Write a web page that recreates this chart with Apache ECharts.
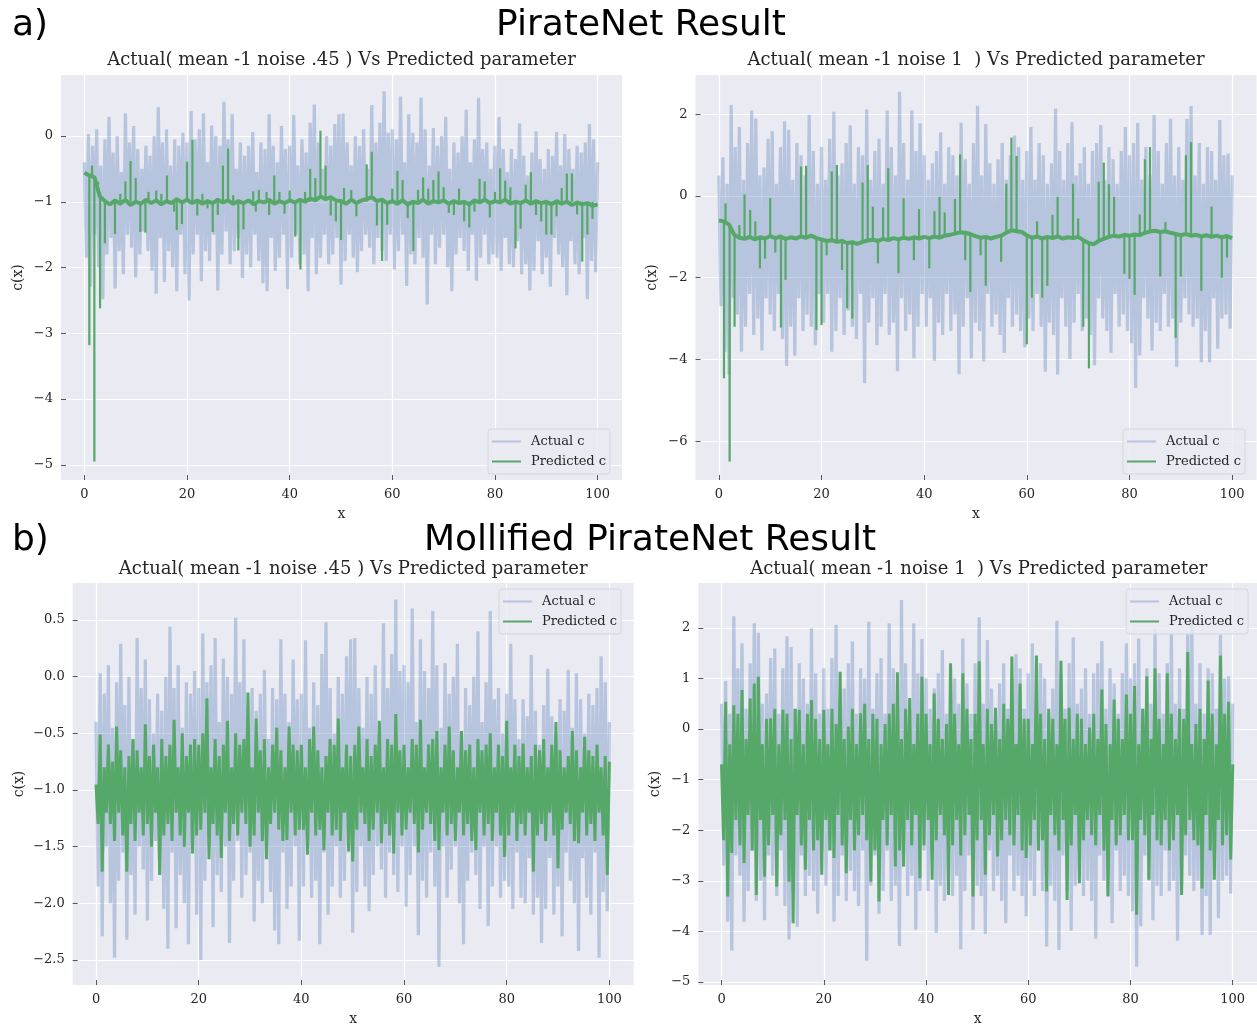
<!DOCTYPE html>
<html>
<head>
<meta charset="utf-8">
<script src="https://cdn.jsdelivr.net/npm/echarts@6.0.0/dist/echarts.min.js"></script>
<style>
  html, body { margin: 0; padding: 0; background: #fff; }
  #main { width: 1257px; height: 1029px; }
</style>
</head>
<body>
<div id="main"></div>
<script>
// Noisy series are read off the picture as alternating crest / trough values:
// crests at x = 0, 0.8, 1.6 ... 100, troughs at x = 0.4, 1.2 ... 99.6
const X_TICKS = [0, 20, 40, 60, 80, 100];
const Y_TICKS_A045 = [-5, -4, -3, -2, -1, 0];
const Y_TICKS_A1 = [-6, -4, -2, 0, 2];
const Y_TICKS_B045 = [-2.5, -2, -1.5, -1, -0.5, 0, 0.5];
const Y_TICKS_B1 = [-5, -4, -3, -2, -1, 0, 1, 2];

// actual c, mean -1 noise .45 (same data in a) and b))
const actual045Crests = [
  -0.4, 0.03, -0.15, 0.10, -0.45, -0.05, 0.29, -0.25, 0.0, -0.55, 0.34, -0.1, 0.15, -0.2, -0.5, -0.15, -0.3, 0.0, 0.44, -0.1, 0.1, -0.45, -0.05, -0.15, 0.05,
  -0.1, 0.38, -0.05, 0.1, 0.34, -0.4, 0.16, 0.0, -0.15, 0.52, -0.05, 0.33, -0.5, -0.1, -0.3, -0.15, 0.06, -0.55, -0.1, -0.2, 0.33, -0.15, -0.4, 0.15, -0.2,
  -0.15, 0.32, -0.45, -0.05, -0.25, 0.20, 0.48, -0.1, -0.5, 0.0, -0.15, 0.18, 0.33, 0.34, -0.1, -0.45, 0.0, -0.15, 0.1, -0.5, 0.47, -0.1, 0.2, 0.68, 0.05,
  0.1, -0.05, 0.60, -0.4, 0.33, 0.05, -0.1, 0.58, 0.1, -0.45, 0.12, -0.15, 0.0, 0.29, -0.5, -0.1, -0.25, 0.0, 0.40, -0.4, -0.05, 0.58, -0.2, -0.1, -0.5,
  -0.15, 0.29, -0.2, -0.55, -0.2, -0.35, 0.19, -0.3, -0.6, -0.25, 0.07, -0.35, -0.5, -0.2, -0.3, 0.06, -0.45, 0.03, -0.2, -0.5, -0.15, -0.25, -0.1, 0.18, -0.05,
  -0.4
];
const actual045Troughs = [
  -1.85, -2.29, -1.5, -2.0, -2.48, -1.8, -1.55, -2.32, -1.75, -2.1, -1.5, -1.7, -2.15, -1.8, -1.45, -1.75, -2.05, -2.40, -1.55, -2.22, -1.75, -2.0, -2.36, -1.5, -2.1,
  -2.50, -1.8, -1.5, -2.21, -1.75, -1.9, -1.5, -2.35, -1.8, -1.45, -1.95, -1.75, -1.55, -2.16, -1.8, -2.0, -1.5, -1.9, -2.24, -2.36, -1.55, -2.05, -1.85, -1.5, -2.33,
  -1.85, -1.5, -1.95, -1.8, -2.36, -1.55, -2.10, -1.85, -1.5, -1.95, -1.8, -1.55, -2.26, -1.9, -1.5, -1.85, -2.07, -1.75, -1.5, -1.7, -1.95, -1.55, -1.75, -1.9, -1.5,
  -2.03, -1.75, -1.5, -2.28, -1.8, -1.95, -1.55, -1.85, -2.56, -1.5, -1.95, -1.7, -1.5, -2.0, -2.36, -1.8, -1.55, -1.75, -2.05, -1.5, -2.20, -1.85, -1.5, -1.95, -1.8,
  -1.85, -2.05, -1.55, -1.95, -2.0, -1.6, -2.1, -1.95, -2.35, -2.05, -1.6, -2.1, -1.85, -2.29, -1.55, -1.8, -2.0, -2.42, -1.6, -1.95, -2.1, -1.55, -2.48, -1.9, -2.07
];

// actual c, mean -1 noise 1
const actual1Crests = [
  0.5, 0.95, 0.3, 2.23, 1.2, 1.69, 0.4, 1.3, 2.09, 1.90, 0.5, 0.7, 1.4, 1.59, 0.3, 1.2, 1.83, 1.62, 0.4, 1.3, 1.0, 0.5, 1.99, 1.1, 0.3,
  1.2, 0.4, 1.4, 2.06, 0.5, 0.8, 1.3, 1.73, 0.3, 1.2, 1.0, 2.12, 0.4, 1.1, 1.4, 0.3, 2.09, 1.2, 0.5, 2.55, 1.3, 0.4, 2.09, 1.1, 1.78,
  1.0, 0.4, 0.8, 1.1, 1.56, 0.3, 1.2, 1.0, 0.5, 1.79, 0.9, 0.3, 1.3, 2.21, 0.5, 1.76, 0.8, 0.3, 0.9, 1.3, 0.4, 1.0, 1.48, 1.2, 0.4,
  1.1, 1.69, 0.4, 1.3, 1.0, 0.3, 0.8, 2.14, 1.1, 0.4, 1.3, 1.81, 0.5, 0.8, 1.2, 0.3, 1.1, 1.3, 1.74, 0.4, 1.2, 0.9, 0.3, 1.1, 1.69,
  1.0, 1.3, 1.79, 0.4, 1.2, 0.5, 1.99, 1.1, 0.3, 1.3, 1.89, 0.5, 1.2, 0.4, 1.89, 2.2, 0.5, 1.3, 0.3, 1.2, 1.1, 0.4, 1.86, 1.0, 1.04,
  0.5
];
const actual1Troughs = [
  -2.7, -3.81, -4.38, -2.5, -2.9, -3.81, -3.2, -2.4, -3.4, -3.0, -3.78, -2.5, -2.9, -3.3, -2.4, -3.5, -4.16, -3.2, -3.91, -2.5, -3.3, -2.9, -3.2, -3.65, -2.4,
  -3.1, -2.4, -3.81, -3.3, -2.5, -3.4, -2.8, -3.2, -3.5, -2.4, -4.58, -3.1, -2.5, -3.65, -3.2, -2.4, -3.4, -3.1, -4.29, -2.5, -3.3, -2.9, -3.97, -3.2, -2.4,
  -3.2, -2.5, -4.03, -3.1, -3.4, -2.4, -3.3, -2.9, -4.36, -3.2, -2.5, -3.97, -3.1, -3.3, -4.05, -2.4, -3.2, -2.9, -3.4, -3.84, -2.5, -3.2, -2.9, -3.3, -3.70,
  -3.0, -3.3, -2.4, -3.2, -4.30, -3.1, -3.4, -4.37, -2.5, -3.2, -3.99, -3.1, -2.4, -3.3, -3.0, -3.4, -4.14, -2.5, -3.0, -3.3, -3.84, -2.4, -3.2, -2.9, -3.3,
  -3.6, -4.70, -3.9, -2.5, -3.0, -3.78, -3.1, -3.3, -2.4, -3.2, -3.0, -4.18, -3.1, -2.5, -2.9, -3.2, -3.0, -4.07, -3.3, -4.07, -2.5, -3.74, -3.0, -2.9, -3.25
];

// PirateNet predicted c, noise .45: slow baseline (x = 0..100 step 1) + spikes [x, from, to]
const pirate045Base = [
  -0.56, -0.6, -0.63, -0.92, -0.99, -1.04, -0.98, -1.03, -0.97, -1.05,
  -1.0, -1.03, -0.97, -1.02, -0.98, -1.04, -0.99, -1.02, -0.96, -1.01,
  -0.97, -1.02, -0.98, -1.03, -0.99, -1.02, -0.97, -1.01, -0.98, -1.03,
  -0.99, -1.02, -0.98, -1.04, -0.99, -1.01, -0.97, -1.03, -0.99, -1.02,
  -0.98, -1.01, -0.97, -1.0, -0.95, -0.98, -0.92, -0.96, -0.93, -0.98,
  -0.99, -1.03, -0.97, -1.02, -0.98, -0.96, -0.93, -0.99, -0.97, -1.02,
  -0.99, -1.03, -0.98, -1.04, -1.0, -1.02, -0.97, -1.03, -0.99, -1.01,
  -0.98, -1.03, -0.99, -1.02, -1.0, -1.04, -0.98, -1.01, -0.97, -1.02,
  -0.99, -1.01, -0.97, -1.03, -1.0, -1.02, -0.98, -1.03, -0.99, -1.02,
  -1.0, -1.04, -0.99, -1.03, -1.0, -1.05, -1.01, -1.04, -1.02, -1.06,
  -1.04
];
const pirate045Spikes = [
  [0.97, -0.6, -3.18], [1.5, -0.6, -0.45], [1.95, -0.62, -4.95], [2.7, -0.7, -0.74], [3.06, -0.85, -2.62],
  [4.0, -1, -1.63], [5.97, -1, -1.49], [7, -1, -0.88], [8, -1, -0.69], [9, -1, -0.38], [10, -1, -0.64],
  [10.9, -1, -1.46], [11.9, -1, -1.47], [12.5, -1, -0.85], [14, -1, -0.83], [15, -1, -0.88], [16.1, -1, -0.6],
  [17.5, -1, -1.15], [18, -1, -1.43], [19, -1, -1.34], [20, -1, -0.39], [21.05, -1, -0.06], [22, -1, -1.21],
  [23, -1, -0.88], [24, -1, -1.1], [25, -1, -1.46], [26, -1, -1.2], [27, -1, -0.45], [28, -1, -0.19],
  [29, -1, -0.9], [30, -1, -1.74], [31, -1, -1.42], [32.9, -1, -0.84], [33.4, -1, -1.15], [34, -1, -0.82],
  [35.5, -1, -0.85], [36, -1, -1.2], [37, -1, -0.6], [38, -1, -0.85], [39, -1, -1.18], [40, -1, -0.83],
  [41.1, -1, -1.53], [42.1, -1, -2.03], [43, -1, -0.85], [44, -1, -0.5], [45, -1, -0.64], [46, -0.95, 0.08],
  [47, -0.95, -0.45], [48, -0.95, -1.21], [49, -1, -1.3], [50, -1, -1.58], [50.6, -1, -0.79], [52, -1, -0.82],
  [53, -1, -1.22], [55, -1, -0.43], [56, -0.95, -0.24], [57, -1, -1.36], [58, -1, -1.9], [59, -1, -1.35],
  [60, -1, -0.8], [61, -1, -0.53], [62, -1, -0.67], [63, -1, -1.25], [64.1, -1, -1.75], [65, -1, -0.82],
  [66, -1, -0.63], [67, -1, -0.8], [68, -1, -0.67], [69, -1, -0.54], [70, -1, -0.78], [71, -1, -1.17],
  [72, -1, -1.2], [73, -1, -0.8], [74, -1, -1.3], [75, -1, -1.39], [76, -1, -1.15], [77, -1, -0.65],
  [78, -1, -0.69], [79, -1, -1.24], [80, -1, -0.85], [81, -1, -0.49], [82, -1, -0.68], [83, -1, -0.78],
  [84, -1, -1.71], [85, -1, -1.41], [86, -1, -0.74], [87, -1, -0.55], [88, -1, -1.2], [89, -1, -1.3],
  [90, -1, -1.5], [91, -1, -1.5], [92, -1, -1.22], [93, -1, -0.79], [94, -1, -0.57], [95, -1, -0.57],
  [96, -1, -1.19], [97, -1, -1.91], [98, -1, -1.5], [99, -1, -1.26]
];

// PirateNet predicted c, noise 1
const pirate1Base = [
  -0.6, -0.62, -0.7, -0.95, -1.02, -1.05, -1.0, -1.06, -1.01, -1.04,
  -0.98, -1.03, -0.99, -1.05, -1.01, -1.04, -0.99, -1.02, -0.97, -1.03,
  -1.06, -1.1, -1.08, -1.12, -1.1, -1.15, -1.13, -1.17, -1.12, -1.09,
  -1.07, -1.1, -1.05, -1.08, -1.03, -1.06, -1.02, -1.05, -1.01, -1.04,
  -1.0, -1.03, -0.99, -1.02, -0.97, -0.95, -0.92, -0.89, -0.9, -0.93,
  -0.98, -1.02, -1.0, -1.04, -1.0, -0.97, -0.9, -0.84, -0.86, -0.88,
  -0.96, -1.02, -0.99, -1.04, -1.0, -1.03, -0.99, -1.04, -1.01, -1.03,
  -1.0, -1.08, -1.15, -1.18, -1.1, -1.05, -1.0, -0.97, -0.99, -0.95,
  -0.97, -0.94, -0.96, -0.9, -0.87, -0.85, -0.88, -0.86, -0.9, -0.93,
  -0.96, -0.93, -0.97, -0.95, -0.99, -0.96, -1.0, -0.97, -1.01, -0.98,
  -1.03
];
const pirate1Spikes = [
  [1.0, -0.62, -4.46], [1.3, -0.62, -0.18], [2.1, -0.7, -6.5], [3.06, -0.95, -3.2], [4, -1, -0.71],
  [5, -1.03, 0.04], [6.1, -1, -0.34], [7.1, -1, -0.62], [8, -1, -1.77], [9, -1, -1.53], [10, -1, -0.05],
  [11, -1, -1.38], [12.1, -1, -3.22], [13, -1, -2.05], [16, -1, 0.72], [17, -1, 0.74], [19, -1.03, -3.28],
  [20, -1.06, -3.16], [21, -1.1, -1.45], [22, -1.08, 0.6], [23, -1.12, 0.76], [24, -1.1, -1.81],
  [25, -1.15, -2.75], [26, -1.13, -3.0], [28, -1.12, 0.33], [29, -1.09, 0.76], [30, -1.07, -0.26],
  [31, -1.1, -1.65], [32, -1.05, -0.28], [33, -1.08, 0.68], [35, -1.06, -1.89], [36, -1.02, -0.05],
  [38, -1.01, -1.57], [39, -1.04, -0.32], [41, -1.03, -1.77], [42, -0.99, -0.37], [43, -1.02, -0.02],
  [44, -0.97, -0.4], [46, -0.92, -0.07], [47, -0.89, 1.02], [48, -0.9, -1.57], [49, -0.93, -2.35],
  [51, -1.02, -1.45], [52, -1, -2.2], [55, -0.97, -1.61], [56, -0.9, 0.3], [57, -0.84, 1.43],
  [58, -0.86, 0.98], [60, -0.96, -3.63], [61, -1.02, -2.49], [62, -0.99, -0.62], [63, -1.04, -2.49],
  [64, -1, -2.2], [65, -1.03, -0.46], [66, -0.99, -0.02], [69, -1.03, 0.3], [70, -1, -0.55],
  [71, -1.08, -3.2], [72.1, -1.15, -4.22], [74, -1.1, 0.35], [75, -1.05, 0.82], [76, -1, 0.29],
  [77, -0.97, -0.02], [79, -0.95, -1.9], [80, -0.97, -2.03], [81, -0.94, -2.42], [82, -0.96, -0.45],
  [83, -0.9, 0.9], [84, -0.87, 1.2], [86, -0.88, -1.97], [87, -0.86, -0.64], [89, -0.93, -3.47],
  [90, -0.96, -1.97], [91, -0.93, 1.0], [92, -0.97, 1.32], [94, -0.99, -2.32], [96, -1, -0.26],
  [98, -1.01, -2.0], [99, -0.98, -1.51]
];

// Mollified PirateNet predicted c
const mollified045Crests = [
  -0.95, -0.51, -0.8, -0.6, -0.75, -0.44, -0.65, -0.8, -0.7, -0.55, -0.65, -0.8, -0.42, -0.7, -0.6, -0.8, -0.55, -0.7, -0.6, -0.38, -0.8, -0.5, -0.7, -0.6, -0.55,
  -0.6, -0.5, -0.19, -0.8, -0.55, -0.7, -0.6, -0.39, -0.8, -0.5, -0.6, -0.55, -0.14, -0.8, -0.37, -0.65, -0.55, -0.8, -0.6, -0.45, -0.65, -0.8, -0.44, -0.6, -0.65,
  -0.6, -0.8, -0.55, -0.44, -0.65, -0.8, -0.7, -0.55, -0.6, -0.37, -0.8, -0.6, -0.7, -0.6, -0.44, -0.8, -0.55, -0.7, -0.6, -0.39, -0.8, -0.55, -0.6, -0.33, -0.65,
  -0.6, -0.8, -0.55, -0.6, -0.38, -0.8, -0.6, -0.55, -0.48, -0.8, -0.6, -0.44, -0.65, -0.8, -0.48, -0.65, -0.6, -0.8, -0.55, -0.65, -0.6, -0.5, -0.8, -0.6, -0.7,
  -0.39, -0.8, -0.6, -0.7, -0.59, -0.8, -0.7, -0.6, -0.65, -0.55, -0.8, -0.6, -0.4, -0.65, -0.8, -0.7, -0.48, -0.65, -0.8, -0.53, -0.65, -0.7, -0.6, -0.8, -0.7,
  -0.75
];
const mollified045Troughs = [
  -1.3, -1.72, -1.2, -1.3, -1.45, -1.2, -1.4, -1.72, -1.3, -1.45, -1.2, -1.4, -1.3, -1.5, -1.2, -1.75, -1.4, -1.3, -1.45, -1.2, -1.4, -1.50, -1.2, -1.56, -1.4,
  -1.35, -1.2, -1.61, -1.3, -1.4, -1.60, -1.2, -1.45, -1.3, -1.4, -1.2, -1.3, -1.50, -1.4, -1.2, -1.45, -1.61, -1.3, -1.2, -1.35, -1.45, -1.44, -1.2, -1.4, -1.35,
  -1.35, -1.57, -1.2, -1.4, -1.35, -1.53, -1.2, -1.4, -1.35, -1.45, -1.2, -1.54, -1.63, -1.35, -1.2, -1.3, -1.45, -1.35, -1.2, -1.47, -1.3, -1.4, -1.56, -1.2, -1.4,
  -1.35, -1.2, -1.3, -1.55, -1.35, -1.2, -1.3, -1.45, -1.53, -1.2, -1.4, -1.3, -1.45, -1.2, -1.4, -1.3, -1.45, -1.53, -1.2, -1.4, -1.3, -1.45, -1.2, -1.4, -1.59,
  -1.4, -1.2, -1.45, -1.3, -1.4, -1.2, -1.72, -1.4, -1.3, -1.45, -1.2, -1.4, -1.69, -1.35, -1.2, -1.3, -1.45, -1.47, -1.2, -1.4, -1.3, -1.45, -1.2, -1.4, -1.75
];
const mollified1Crests = [
  -0.7, 0.54, -0.3, 0.47, 0.3, 0.77, -0.2, 0.6, 0.9, 1.03, -0.3, 0.2, 0.21, 0.4, -0.3, 0.38, 0.3, -0.2, 0.4, 0.38, -0.3, 0.3, 0.57, 0.2, -0.2,
  0.38, -0.3, 0.4, 0.1, 1.13, -0.2, 0.05, 0.4, -0.3, 0.31, 0.5, -0.2, 0.3, 0.2, -0.3, 0.1, 0.3, 0.5, 1.12, -0.2, 0.4, 0.61, -0.3, 0.3, 1.03,
  0.3, -0.3, 0.70, 0.2, -0.2, 0.1, 1.30, 0.3, -0.3, 1.10, 0.4, -0.2, 0.3, 1.34, -0.3, 0.4, 0.1, 0.42, -0.2, 0.5, 0.2, 1.43, -0.3, 0.9, 0.2,
  0.2, -0.3, 1.45, 0.3, -0.2, 0.4, 0.2, -0.3, 1.35, 0.2, 0.42, -0.2, 0.3, 0.2, -0.3, 0.03, 0.3, -0.2, 0.78, 0.1, -0.3, 0.58, 0.2, -0.2, 0.68,
  0.3, 0.85, -0.3, 0.4, 1.04, -0.2, 1.2, 0.2, -0.3, 1.10, 0.3, -0.2, 0.4, 0.2, 1.52, -0.3, 0.1, 0.4, -0.2, 0.96, 0.3, -0.3, 1.45, 0.3, 0.54,
  -0.7
];
const mollified1Troughs = [
  -2.2, -3.31, -2.45, -1.8, -2.3, -2.65, -1.7, -2.4, -3.28, -1.8, -2.92, -2.3, -1.7, -3.12, -2.1, -1.8, -3.02, -3.84, -1.7, -2.3, -2.78, -1.8, -2.4, -2.2, -2.88,
  -1.8, -2.4, -2.55, -1.7, -2.3, -2.85, -1.8, -2.4, -2.1, -1.7, -2.2, -3.02, -2.4, -3.41, -1.8, -2.3, -1.7, -2.72, -2.4, -2.72, -1.8, -2.3, -1.7, -2.95, -2.3,
  -1.8, -2.98, -2.2, -1.7, -2.1, -3.28, -2.3, -1.8, -2.5, -2.1, -1.7, -3.31, -2.2, -1.8, -2.88, -2.1, -1.7, -2.52, -2.2, -1.8, -2.1, -2.3, -1.7, -2.4, -2.55,
  -2.3, -1.8, -2.4, -2.2, -3.21, -1.7, -2.1, -2.4, -1.8, -3.38, -2.3, -1.7, -3.05, -2.2, -1.8, -2.1, -2.3, -1.7, -2.4, -3.31, -1.8, -2.3, -2.1, -1.7, -2.2,
  -2.2, -3.67, -1.8, -2.1, -2.98, -1.7, -2.2, -2.3, -1.8, -2.4, -2.2, -1.7, -3.28, -2.1, -1.8, -2.2, -2.3, -3.15, -1.7, -2.4, -2.98, -1.8, -2.3, -2.1, -2.58
];

const SERIF = "'DejaVu Serif', serif";
const SANS = "'DejaVu Sans', sans-serif";
const TEXT = '#262626';
const BLUE = '#4C72B0';
const GREEN = '#55A868';

// crest, trough, crest, trough ... in x order
const interleave = (crests, troughs) => {
  const out = [];
  crests.forEach((c, k) => { out.push(c); if (k < troughs.length) out.push(troughs[k]); });
  return out;
};
const toPairs = (vals, step) => vals.map((v, i) => [Math.round(i * step * 100) / 100, v]);
const fmt = d => v => (v < 0 ? '\u2212' : '') + Math.abs(v).toFixed(d);

const actual045 = toPairs(interleave(actual045Crests, actual045Troughs), 0.4);
const actual1 = toPairs(interleave(actual1Crests, actual1Troughs), 0.4);
const mollified045 = toPairs(interleave(mollified045Crests, mollified045Troughs), 0.4);
const mollified1 = toPairs(interleave(mollified1Crests, mollified1Troughs), 0.4);

const panels = [
  { grid: { left: 61, top: 75, width: 561, height: 405 }, yMin: -5.23, yMax: 0.927, yTicks: Y_TICKS_A045, dec: 0,
    title: 'Actual( mean -1 noise .45 ) Vs Predicted parameter', titleTop: 51, legend: { left: 488, top: 429 } },
  { grid: { left: 695.5, top: 75, width: 561, height: 405 }, yMin: -6.95, yMax: 2.962, yTicks: Y_TICKS_A1, dec: 0,
    title: 'Actual( mean -1 noise 1  ) Vs Predicted parameter', titleTop: 51, legend: { left: 1123, top: 429 } },
  { grid: { left: 72.7, top: 583, width: 561, height: 402 }, yMin: -2.72, yMax: 0.826, yTicks: Y_TICKS_B045, dec: 1,
    title: 'Actual( mean -1 noise .45 ) Vs Predicted parameter', titleTop: 560, legend: { left: 499, top: 589 } },
  { grid: { left: 698.3, top: 583, width: 561, height: 402 }, yMin: -5.06, yMax: 2.885, yTicks: Y_TICKS_B1, dec: 0,
    title: 'Actual( mean -1 noise 1  ) Vs Predicted parameter', titleTop: 560, legend: { left: 1126, top: 589 } }
];

const tickStyle = { show: true, inside: true, length: 5, lineStyle: { color: '#555', width: 1 } };

const grids = panels.map(p => Object.assign({ show: true, backgroundColor: '#EAEAF2', borderWidth: 0 }, p.grid));

const xAxes = panels.map((p, i) => ({
  type: 'value', gridIndex: i, min: -4.55, max: 104.75,
  name: 'x', nameLocation: 'middle', nameGap: 27,
  nameTextStyle: { fontFamily: SERIF, fontSize: 14, color: TEXT },
  axisLine: { show: false, onZero: false },
  axisTick: Object.assign({ customValues: X_TICKS }, tickStyle),
  axisLabel: { customValues: X_TICKS, fontFamily: SERIF, fontSize: 13, color: TEXT, margin: 8 },
  splitLine: { show: true, customValues: X_TICKS, lineStyle: { color: '#fff', width: 1.2 } }
}));

const yAxes = panels.map((p, i) => ({
  type: 'value', gridIndex: i, min: p.yMin, max: p.yMax,
  name: 'c(x)', nameLocation: 'middle', nameRotate: 90, nameGap: p.dec ? 46 : 36,
  nameTextStyle: { fontFamily: SERIF, fontSize: 14, color: TEXT },
  axisLine: { show: false, onZero: false },
  axisTick: Object.assign({ customValues: p.yTicks }, tickStyle),
  axisLabel: { customValues: p.yTicks, formatter: fmt(p.dec), fontFamily: SERIF, fontSize: 13, color: TEXT, margin: 8 },
  splitLine: { show: true, customValues: p.yTicks, lineStyle: { color: '#fff', width: 1.2 } }
}));

function lineSeries(name, idx, data, color, width, opacity) {
  return {
    type: 'line', name, xAxisIndex: idx, yAxisIndex: idx, data,
    symbol: 'none', silent: true, clip: true, z: name === 'Actual c' ? 2 : 3,
    itemStyle: { color },
    lineStyle: { color, width, opacity, join: 'bevel' }
  };
}

function spikeSeries(idx, data) {
  return {
    type: 'custom', name: 'Predicted c', xAxisIndex: idx, yAxisIndex: idx, data,
    silent: true, clip: true, z: 3,
    itemStyle: { color: GREEN },
    encode: { x: 0, y: [1, 2] },
    renderItem: (params, api) => {
      const a = api.coord([api.value(0), api.value(1)]);
      const b = api.coord([api.value(0), api.value(2)]);
      return { type: 'line', shape: { x1: a[0], y1: a[1], x2: b[0], y2: b[1] },
               style: { stroke: GREEN, lineWidth: 2.2 } };
    }
  };
}

const series = [
  lineSeries('Actual c', 0, actual045, BLUE, 3.2, 0.32),
  lineSeries('Predicted c', 0, toPairs(pirate045Base, 1), GREEN, 4, 1),
  spikeSeries(0, pirate045Spikes),
  lineSeries('Actual c', 1, actual1, BLUE, 3.2, 0.32),
  lineSeries('Predicted c', 1, toPairs(pirate1Base, 1), GREEN, 4, 1),
  spikeSeries(1, pirate1Spikes),
  lineSeries('Actual c', 2, actual045, BLUE, 3.2, 0.32),
  lineSeries('Predicted c', 2, mollified045, GREEN, 3, 1),
  lineSeries('Actual c', 3, actual1, BLUE, 3.2, 0.32),
  lineSeries('Predicted c', 3, mollified1, GREEN, 3, 1)
];

const legends = panels.map(p => ({
  left: p.legend.left, top: p.legend.top, orient: 'vertical',
  itemWidth: 29, itemHeight: 2, itemGap: 5, padding: [5, 4, 5, 4],
  backgroundColor: 'rgba(234,234,242,0.8)', borderColor: '#d6d6de', borderWidth: 1, borderRadius: 3,
  selectedMode: false,
  textStyle: { fontFamily: SERIF, fontSize: 13, color: TEXT, lineHeight: 15, padding: [0, 0, 0, 5] },
  data: [
    { name: 'Actual c', icon: 'rect', itemStyle: { color: 'rgba(76,114,176,0.32)' } },
    { name: 'Predicted c', icon: 'rect', itemStyle: { color: GREEN } }
  ]
}));

const bigStyle = { fontFamily: SANS, fontSize: 36, fontWeight: 'normal', color: '#000' };
const subStyle = { fontFamily: SERIF, fontSize: 18, fontWeight: 'normal', color: TEXT };
const titles = [
  { text: 'a)', left: 12, top: 8, padding: 0, textStyle: bigStyle },
  { text: 'PirateNet Result', left: 641, top: 8, padding: 0, textAlign: 'center', textStyle: bigStyle },
  { text: 'b)', left: 12, top: 523, padding: 0, textStyle: bigStyle },
  { text: 'Mollified PirateNet Result', left: 650, top: 523, padding: 0, textAlign: 'center', textStyle: bigStyle }
].concat(panels.map(p => ({
  text: p.title, left: p.grid.left + p.grid.width / 2, top: p.titleTop, padding: 0,
  textAlign: 'center', textStyle: subStyle
})));

const chart = echarts.init(document.getElementById('main'), null, { renderer: 'canvas' });
chart.setOption({
  animation: false,
  backgroundColor: '#fff',
  title: titles,
  legend: legends,
  grid: grids,
  xAxis: xAxes,
  yAxis: yAxes,
  series
});
window.addEventListener('resize', chart.resize);
</script>
</body>
</html>
